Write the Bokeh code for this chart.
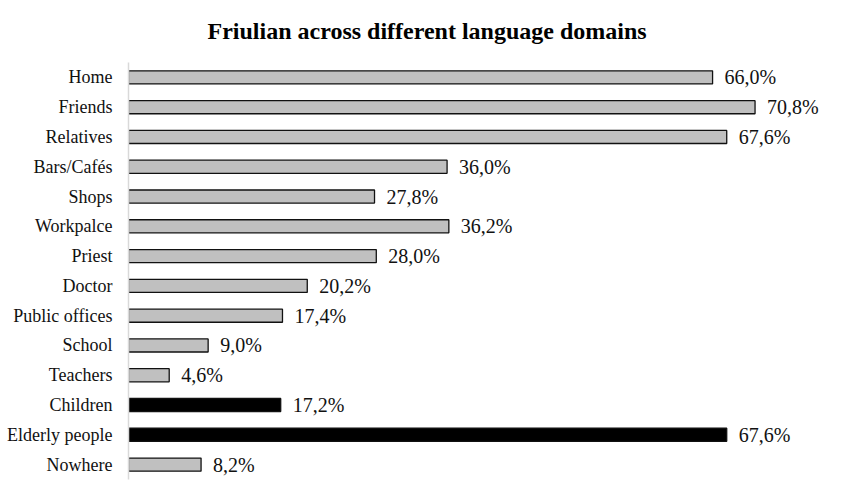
from bokeh.plotting import figure
from bokeh.models import ColumnDataSource, FactorRange, Range1d, Title
from bokeh.transform import factor_cmap
from bokeh.core.properties import value
from bokeh.embed import file_html
from bokeh.resources import INLINE

categories = ["Home", "Friends", "Relatives", "Bars/Cafés", "Shops", "Workpalce",
              "Priest", "Doctor", "Public offices", "School", "Teachers",
              "Children", "Elderly people", "Nowhere"]
percentages = [66.0, 70.8, 67.6, 36.0, 27.8, 36.2, 28.0, 20.2, 17.4, 9.0, 4.6,
               17.2, 67.6, 8.2]
groups = ["domain"] * 11 + ["people", "people"] + ["domain"]
labels = [f"{v:.1f}%".replace(".", ",") for v in percentages]
title_text = "Friulian across different language domains"

source = ColumnDataSource(dict(cat=categories, val=percentages, grp=groups, lab=labels))

FONT = "Liberation Serif"

p = figure(width=834, height=488, output_backend="svg", toolbar_location=None,
           y_range=FactorRange(factors=list(reversed(categories))),
           x_range=Range1d(0, 79.1),
           min_border_left=128, min_border_right=6, min_border_bottom=9,
           min_border_top=62)
p.title = Title(text=title_text, align="left", vertical_align="top",
                text_font=FONT, text_font_size="24px", text_font_style="bold",
                text_color="black", offset=79, standoff=34)

p.hbar(y="cat", right="val", left=0, height=0.44, source=source,
       fill_color=factor_cmap("grp", palette=["#c0c0c0", "#000000"], factors=["domain", "people"]),
       line_color="#111111", line_width=1.3)

p.text(x="val", y="cat", text="lab", source=source, x_offset=12,
       text_font=value(FONT), text_font_size="20px", text_baseline="middle",
       text_align="left", text_color="#111111")

p.xaxis.visible = False
p.xgrid.visible = False
p.ygrid.visible = False
p.outline_line_color = None
yax = p.yaxis[0]
yax.axis_line_color = "#d9d9d9"
yax.axis_line_width = 1.5
yax.major_tick_line_color = None
yax.minor_tick_line_color = None
yax.major_tick_out = 0
yax.major_tick_in = 0
yax.major_label_standoff = 16
yax.major_label_text_font = FONT
yax.major_label_text_font_size = "18px"
yax.major_label_text_color = "#111111"
p.y_range.range_padding = 0

open("out.html", "w").write(file_html(p, INLINE))
